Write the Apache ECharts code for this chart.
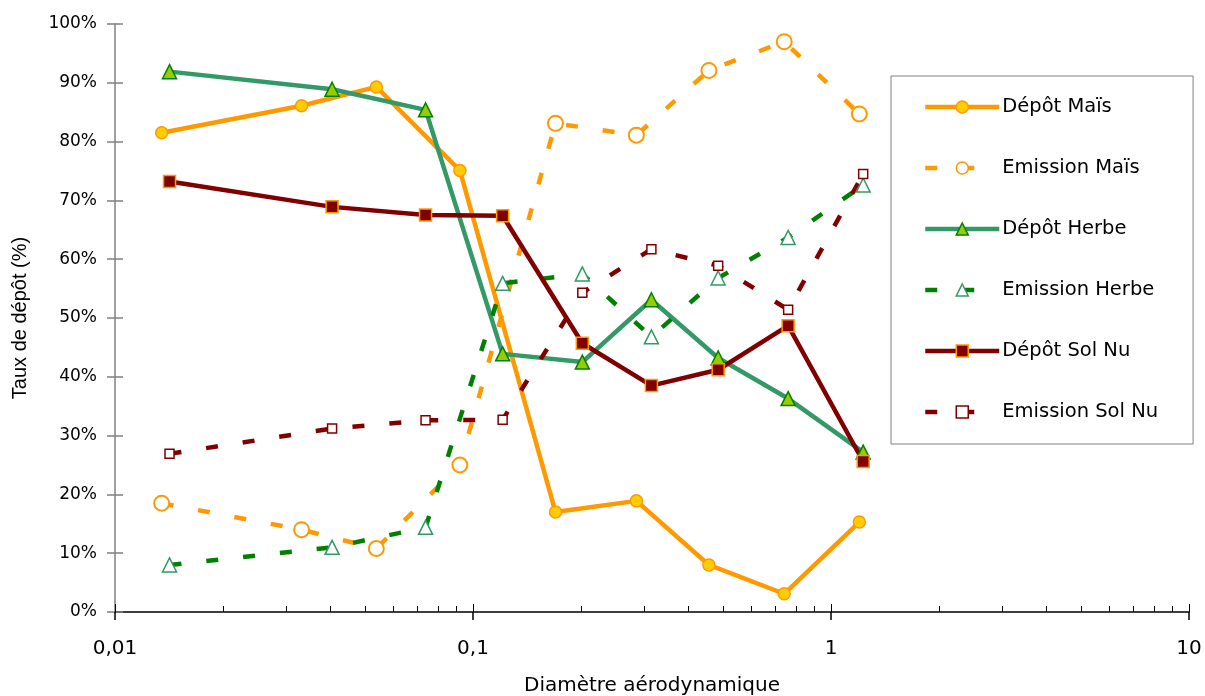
<!DOCTYPE html>
<html><head><meta charset="utf-8">
<script src="https://cdn.jsdelivr.net/npm/echarts@6/dist/echarts.min.js"></script>
<style>html,body{margin:0;padding:0;background:#fff}#c{width:1205px;height:696px}</style>
</head><body><div id="c"></div>
<script>
// ---- data ----
const xMais = [0.0135, 0.0332, 0.0537, 0.0919, 0.170, 0.286, 0.456, 0.740, 1.20];
const xHerbeSol = [0.0142, 0.0404, 0.0737, 0.121, 0.202, 0.315, 0.484, 0.759, 1.23];
const depotMais = [81.5, 86.1, 89.3, 75.1, 17.0, 18.9, 8.0, 3.1, 15.3];
const emissionMais = [18.5, 14.0, 10.8, 25.0, 83.1, 81.1, 92.1, 97.0, 84.7];
const depotHerbe = [91.9, 88.9, 85.4, 43.9, 42.5, 53.1, 43.2, 36.3, 27.2];
const emissionHerbe = [8.0, 11.0, 14.4, 55.9, 57.5, 46.8, 56.8, 63.7, 72.6];
const depotSolNu = [73.2, 68.9, 67.5, 67.4, 45.7, 38.5, 41.2, 48.7, 25.6];
const emissionSolNu = [26.9, 31.2, 32.6, 32.7, 54.3, 61.7, 58.9, 51.4, 74.5];
const seriesNames = ['Dépôt Maïs', 'Emission Maïs', 'Dépôt Herbe', 'Emission Herbe', 'Dépôt Sol Nu', 'Emission Sol Nu'];
const xMajorTicks = [0.01, 0.1, 1, 10];
const xMinorTicks = [0.02, 0.03, 0.04, 0.05, 0.06, 0.07, 0.08, 0.09,
                     0.2, 0.3, 0.4, 0.5, 0.6, 0.7, 0.8, 0.9,
                     2, 3, 4, 5, 6, 7, 8, 9];
const xTitle = 'Diamètre aérodynamique';
const yTitle = 'Taux de dépôt (%)';

// ---- chart ----
const chart = echarts.init(document.getElementById('c'), null, {renderer: 'canvas'});
const pairs = (xs, ys) => xs.map((x, i) => [x, ys[i]]);
const FONT = 'DejaVu Sans';
const dash = [12, 25];

function lineSeries(name, xs, ys, symbol, size, fill, border, bw, lineColor, dashed) {
  return {
    name, type: 'line', xAxisIndex: 0, yAxisIndex: 0,
    data: pairs(xs, ys),
    symbol, symbolSize: size,
    itemStyle: {color: fill, borderColor: border, borderWidth: bw},
    lineStyle: {color: lineColor, width: 4.5, type: dashed ? dash : 'solid', cap: 'butt'},
    emphasis: {disabled: true},
    silent: true
  };
}

const hiddenValueAxis = (ticks, len) => ({
  type: 'value', min: -2, max: 1, position: 'bottom',
  axisLine: {show: false, onZero: false}, axisLabel: {show: false}, splitLine: {show: false},
  axisTick: {show: true, inside: true, length: len, customValues: ticks.map(Math.log10),
             lineStyle: {color: '#000', width: 1}}
});

chart.setOption({
  animation: false,
  backgroundColor: '#fff',
  grid: {left: 115, right: 16, top: 24, bottom: 84, containLabel: false, outerBoundsMode: 'none'},
  xAxis: [
    {
      type: 'log', logBase: 10, min: 0.01, max: 10, position: 'bottom',
      axisLine: {onZero: false, lineStyle: {color: '#000', width: 1.5}},
      axisTick: {show: true, inside: false, length: 8, lineStyle: {color: '#000', width: 1.5}},
      minorTick: {show: false}, splitLine: {show: false}, minorSplitLine: {show: false},
      axisLabel: {fontFamily: FONT, fontSize: 20, color: '#000', margin: 27,
                  formatter: v => String(Number(v.toPrecision(6))).replace('.', ',')},
      name: xTitle, nameLocation: 'middle', nameGap: 64,
      nameTextStyle: {fontFamily: FONT, fontSize: 20, color: '#000'}
    },
    hiddenValueAxis(xMinorTicks, 6),
    hiddenValueAxis(xMajorTicks, 8)
  ],
  yAxis: [
    {
      type: 'value', min: 0, max: 100, interval: 10, position: 'left',
      axisLine: {show: true, onZero: false, lineStyle: {color: '#808080', width: 1.5}},
      axisTick: {show: true, inside: false, length: 8, lineStyle: {color: '#808080', width: 1.5}},
      axisLabel: {formatter: '{value}%', fontFamily: FONT, fontSize: 17, color: '#000', margin: 18},
      splitLine: {show: false},
      name: yTitle, nameLocation: 'middle', nameGap: 85, nameRotate: 90,
      nameTextStyle: {fontFamily: 'Liberation Sans', fontSize: 20, color: '#000'}
    },
    {
      type: 'value', min: 0, max: 100, interval: 10, position: 'left',
      axisLine: {show: false, onZero: false}, axisLabel: {show: false}, splitLine: {show: false},
      axisTick: {show: true, inside: true, length: 8, lineStyle: {color: '#808080', width: 1.5}}
    }
  ],
  legend: {
    orient: 'vertical', left: 891, top: 76,
    padding: [21, 35, 22, 32],
    itemWidth: 74, itemHeight: 15, itemGap: 41,
    borderColor: '#808080', borderWidth: 1, backgroundColor: '#fff',
    textStyle: {fontFamily: FONT, fontSize: 19.5, color: '#000', lineHeight: 15, padding: [0, 0, 0, -2]},
    lineStyle: {width: 4.5},
    itemStyle: {borderWidth: 1.5},
    selectedMode: false,
    data: seriesNames
  },
  series: [
    lineSeries(seriesNames[0], xMais, depotMais, 'circle', 12, '#FFCC00', '#FF9900', 1.5, '#FF9900', false),
    lineSeries(seriesNames[1], xMais, emissionMais, 'circle', 15, '#FFFFFF', '#FF9900', 2, '#FF9900', true),
    lineSeries(seriesNames[2], xHerbeSol, depotHerbe, 'triangle', 14, '#99CC00', '#008000', 1.5, '#339966', false),
    lineSeries(seriesNames[3], xHerbeSol, emissionHerbe, 'triangle', 14, '#FFFFFF', '#339966', 1.5, '#008000', true),
    lineSeries(seriesNames[4], xHerbeSol, depotSolNu, 'rect', 12, '#800000', '#FF9900', 1.5, '#800000', false),
    lineSeries(seriesNames[5], xHerbeSol, emissionSolNu, 'rect', 9, '#FFFFFF', '#800000', 1.5, '#800000', true)
  ]
});
</script>
</body></html>
